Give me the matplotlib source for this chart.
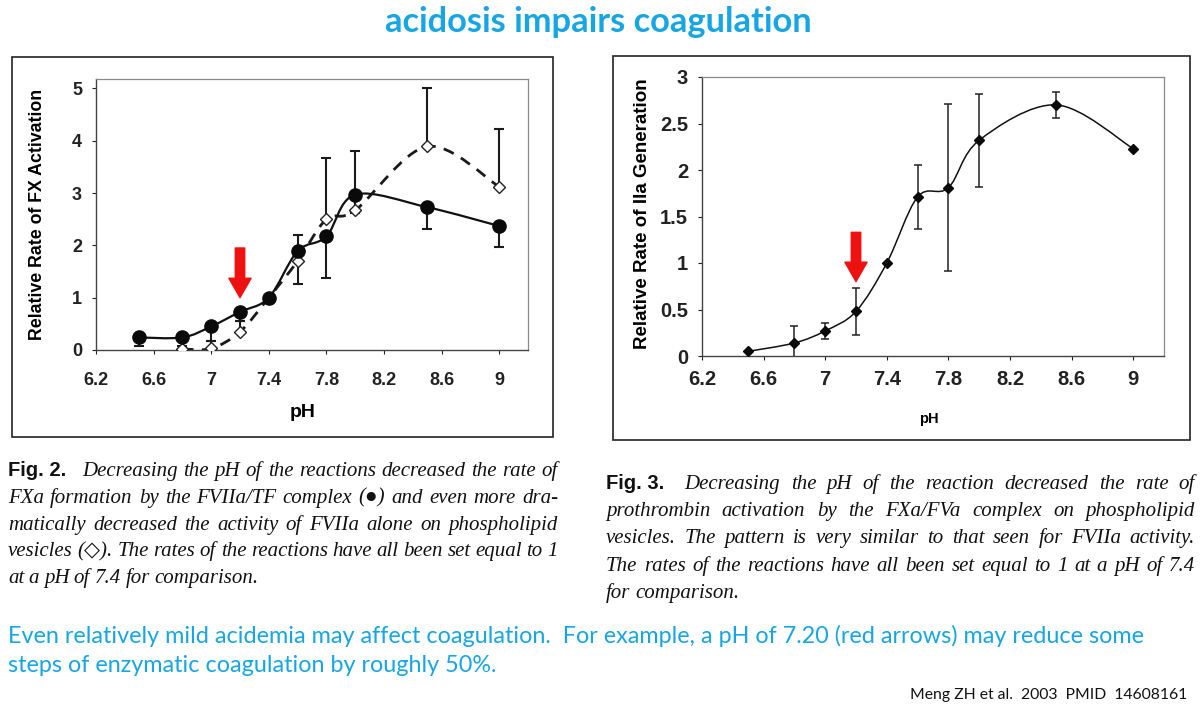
import numpy as np
import matplotlib.pyplot as plt
from matplotlib.path import Path
from matplotlib.patches import PathPatch, Rectangle
from matplotlib.ticker import FuncFormatter

# Fig. 2 - FVIIa/TF complex (filled circles, solid line)
ph_tf = [6.5, 6.8, 7.0, 7.2, 7.4, 7.6, 7.8, 8.0, 8.5, 9.0]
rate_tf = [0.24, 0.24, 0.45, 0.73, 1.0, 1.89, 2.17, 2.97, 2.73, 2.37]
err_tf_low = [0.16, 0.04, 0.27, 0.17, 0.0, 0.63, 0.79, 0.35, 0.41, 0.41]

# Fig. 2 - FVIIa alone (open diamonds, dashed line)
ph_vii = [6.8, 7.0, 7.2, 7.4, 7.6, 7.8, 8.0, 8.5, 9.0]
rate_vii = [0.02, 0.03, 0.35, 1.0, 1.7, 2.5, 2.67, 3.89, 3.12]
err_vii_up = [0.05, 0.15, 0.2, 0.0, 0.5, 1.17, 1.13, 1.11, 1.11]

# Fig. 3 - FXa/FVa prothrombin activation
ph_iia = [6.5, 6.8, 7.0, 7.2, 7.4, 7.6, 7.8, 8.0, 8.5, 9.0]
rate_iia = [0.05, 0.14, 0.27, 0.48, 1.0, 1.71, 1.81, 2.32, 2.70, 2.23]
err_iia = [0.0, 0.18, 0.09, 0.25, 0.0, 0.34, 0.9, 0.5, 0.14, 0.0]

x_ticks = [6.2, 6.6, 7.0, 7.4, 7.8, 8.2, 8.6, 9.0]
y_ticks_fx = [0, 1, 2, 3, 4, 5]
y_ticks_iia = [0, 0.5, 1, 1.5, 2, 2.5, 3]
arrow_ph = 7.2

title = 'acidosis impairs coagulation'
caption2 = ['Decreasing the pH of the reactions decreased the rate of',
            'FXa formation by the FVIIa/TF complex (\u25cf) and even more dra-',
            'matically decreased the activity of FVIIa alone on phospholipid',
            'vesicles (\u25c7). The rates of the reactions have all been set equal to 1',
            'at a pH of 7.4 for comparison.']
caption3 = ['Decreasing the pH of the reaction decreased the rate of',
            'prothrombin activation by the FXa/FVa complex on phospholipid',
            'vesicles. The pattern is very similar to that seen for FVIIa activity.',
            'The rates of the reactions have all been set equal to 1 at a pH of 7.4',
            'for comparison.']
note = ['Even relatively mild acidemia may affect coagulation.  For example, a pH of 7.20 (red arrows) may reduce some',
        'steps of enzymatic coagulation by roughly 50%.']
cite = 'Meng ZH et al.  2003  PMID  14608161'

W, H = 1200, 712
cyan = '#17a5e4'
arial = ['Liberation Sans', 'DejaVu Sans']
serif = ['Liberation Serif', 'DejaVu Serif']
narrow = ['Liberation Sans Narrow', 'Liberation Sans', 'DejaVu Sans']


def smooth_path(xs, ys):
    # excel-like smoothed line: cubic bezier through the points
    p = np.column_stack([xs, ys]).astype(float)
    n = len(p)
    verts = [p[0]]
    codes = [Path.MOVETO]
    for i in range(n - 1):
        prev = p[max(i - 1, 0)]
        nxt = p[min(i + 2, n - 1)]
        verts += [p[i] + (p[i + 1] - prev) / 6, p[i + 1] - (nxt - p[i]) / 6, p[i + 1]]
        codes += [Path.CURVE4] * 3
    return Path(verts, codes)


def style_axes(ax, yticks, ylim, ylabel, ysize, tsize, xpad, xlabel_size, xl_pos, yl_pos):
    ax.set_xlim(6.2, 9.2)
    ax.set_ylim(*ylim)
    ax.set_xticks(x_ticks)
    ax.set_yticks(yticks)
    fmt = FuncFormatter(lambda v, pos: '%g' % v)
    ax.xaxis.set_major_formatter(fmt)
    ax.yaxis.set_major_formatter(fmt)
    for lab in ax.get_xticklabels() + ax.get_yticklabels():
        lab.set_fontfamily(arial)
        lab.set_fontweight('bold')
        lab.set_fontsize(tsize)
    ax.tick_params(axis='x', direction='out', length=3, width=0.8, pad=xpad, colors='#222')
    ax.tick_params(axis='y', direction='out', length=3, width=0.8, pad=7, colors='#222')
    for side in ['top', 'right']:
        ax.spines[side].set_color('#8a8a8a')
        ax.spines[side].set_linewidth(0.9)
    for side in ['left', 'bottom']:
        ax.spines[side].set_color('#444')
        ax.spines[side].set_linewidth(1.0)
    ax.set_ylabel(ylabel, fontfamily=arial, fontweight='bold', fontsize=ysize)
    ax.set_xlabel('pH', fontfamily=arial, fontweight='bold', fontsize=xlabel_size)
    ax.yaxis.set_label_coords(*yl_pos)
    ax.xaxis.set_label_coords(*xl_pos)


fig = plt.figure(figsize=(12, 7.12), dpi=100)
renderer = fig.canvas.get_renderer()

# panel frames
fig.add_artist(Rectangle((12 / W, 1 - 437 / H), 541 / W, 380 / H, transform=fig.transFigure,
                         fill=False, ec='#222', lw=1.2))
fig.add_artist(Rectangle((613 / W, 1 - 440 / H), 577 / W, 384 / H, transform=fig.transFigure,
                         fill=False, ec='#222', lw=1.2))

arrow_style = 'simple,head_width=0.8,head_length=0.7,tail_width=0.34'

# ---- Fig. 2
ax1 = fig.add_axes([96 / W, 1 - 350 / H, 432 / W, 271 / H])
ax1.add_patch(PathPatch(smooth_path(ph_vii, rate_vii), fill=False, ec='#1a1a1a', lw=2.0,
                        linestyle=(0, (4, 3)), zorder=2))
ax1.add_patch(PathPatch(smooth_path(ph_tf, rate_tf), fill=False, ec='#111', lw=1.6, zorder=3))
ax1.errorbar(ph_vii, rate_vii, yerr=[np.zeros(len(err_vii_up)), err_vii_up], fmt='none',
             ecolor='#1a1a1a', elinewidth=1.5, capsize=3.6, capthick=1.5, zorder=2)
ax1.errorbar(ph_tf, rate_tf, yerr=[err_tf_low, np.zeros(len(err_tf_low))], fmt='none',
             ecolor='#1a1a1a', elinewidth=1.5, capsize=3.6, capthick=1.5, zorder=3)
ax1.plot(ph_vii, rate_vii, 'D', ms=6.5, mfc='white', mec='#222', mew=1.0, zorder=4)
ax1.plot(ph_tf, rate_tf, 'o', ms=9.5, color='#0a0a0a', zorder=5)
style_axes(ax1, y_ticks_fx, (0, 5.18), 'Relative Rate of FX Activation', 12.8, 13, 12.5, 14,
           (0.479, -0.199), (-0.115, 0.5))
ax1.annotate('', xy=(arrow_ph, 1.0), xytext=(arrow_ph, 1.95),
             arrowprops=dict(arrowstyle=arrow_style, color='#ee1111', shrinkA=0, shrinkB=0,
                             mutation_scale=20))

# ---- Fig. 3
ax2 = fig.add_axes([702 / W, 1 - 356 / H, 462 / W, 279 / H])
ax2.add_patch(PathPatch(smooth_path(ph_iia, rate_iia), fill=False, ec='#111', lw=1.1, zorder=2))
ax2.errorbar(ph_iia, rate_iia, yerr=err_iia, fmt='none', ecolor='#222', elinewidth=1.1,
             capsize=3.2, capthick=1.1, zorder=3)
ax2.plot(ph_iia, rate_iia, 'D', ms=5, color='#0a0a0a', zorder=4)
style_axes(ax2, y_ticks_iia, (0, 3), 'Relative Rate of IIa Generation', 13.5, 14.5, 7, 10.5,
           (0.492, -0.2), (-0.11, 0.51))
ax2.annotate('', xy=(arrow_ph, 0.80), xytext=(arrow_ph, 1.33),
             arrowprops=dict(arrowstyle=arrow_style, color='#ee1111', shrinkA=0, shrinkB=0,
                             mutation_scale=20))


def fit_width(t, target):
    w = t.get_window_extent(renderer).width
    t.set_fontsize(t.get_fontsize() * target / w)


def draw_caption(label, lines, x0, x1, y0, dy):
    # justified caption, last line left aligned; wider gap after "Fig. n."
    for k, line in enumerate(lines):
        y = y0 + k * dy
        words = [(w, dict(fontfamily=serif, style='italic', fontsize=15)) for w in line.split(' ')]
        if k == 0:
            words.insert(0, (label, dict(fontfamily=narrow, fontweight='bold', fontsize=14.5)))
        texts = [fig.text(0, 1 - y / H, w, va='baseline', ha='left', color='#111', **kw)
                 for w, kw in words]
        widths = [t.get_window_extent(renderer).width for t in texts]
        extra = 10 if k == 0 else 0
        gap = 4.5
        if k < len(lines) - 1:
            gap = (x1 - x0 - sum(widths) - extra) / (len(texts) - 1)
        x = x0
        for i, (t, w) in enumerate(zip(texts, widths)):
            t.set_x(x / W)
            x += w + gap + (extra if i == 0 else 0)


draw_caption('Fig. 2.', caption2, 8, 558, 476, 26.8)
draw_caption('Fig. 3.', caption3, 606, 1195, 489, 27.2)

t = fig.text(598 / W, 1 - 22 / H, title, ha='center', va='center', color=cyan,
             fontfamily=['Lato', 'DejaVu Sans'], fontweight='bold', fontsize=20)
fit_width(t, 427)

t1 = fig.text(8 / W, 1 - 643 / H, note[0], ha='left', va='baseline', color=cyan,
              fontfamily=['Lato', 'DejaVu Sans'], fontsize=14)
fit_width(t1, 1142)
fig.text(8 / W, 1 - 672 / H, note[1], ha='left', va='baseline', color=cyan,
         fontfamily=['Lato', 'DejaVu Sans'], fontsize=t1.get_fontsize())

tc = fig.text(1187 / W, 1 - 699 / H, cite, ha='right', va='baseline', color='#111',
              fontfamily=['Lato', 'DejaVu Sans'], fontsize=11)
fit_width(tc, 277)

fig.savefig('out.png', dpi=100)
